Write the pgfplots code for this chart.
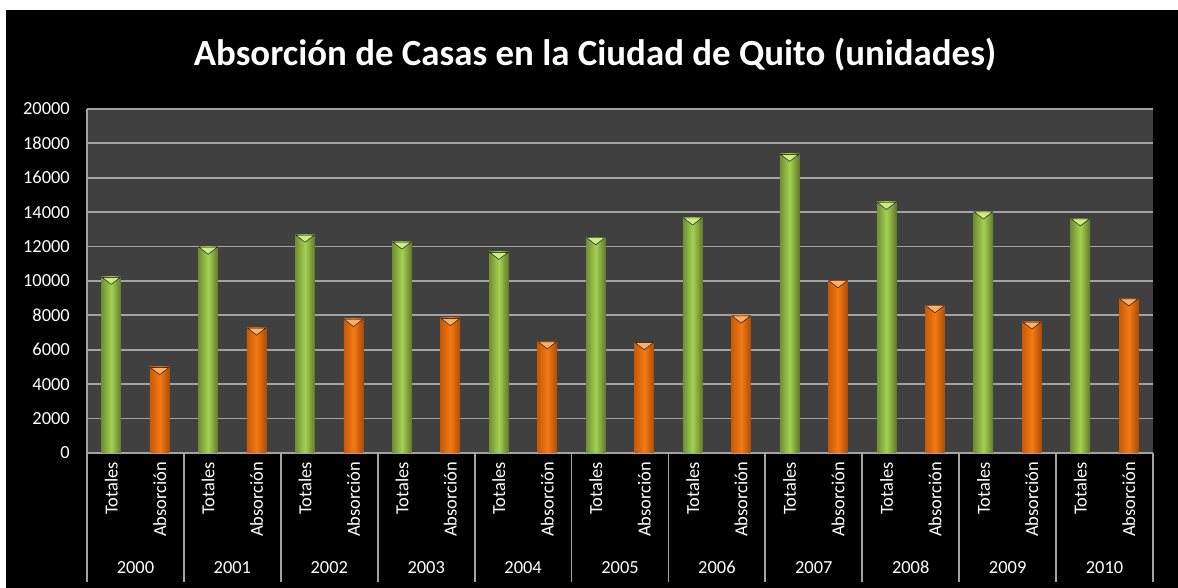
\documentclass[border=0pt]{standalone}
\usepackage{pgfplots}
\pgfplotsset{compat=1.18}
\usepackage{fontspec}
\setmainfont{Carlito}
\definecolor{plotbg}{HTML}{404040}
\definecolor{gridc}{HTML}{A3A3A3}
\definecolor{gL}{HTML}{A6D152}
\definecolor{gD}{HTML}{718F32}
\definecolor{gT}{HTML}{CDEB86}
\definecolor{oL}{HTML}{F47A14}
\definecolor{oD}{HTML}{C85A08}
\definecolor{oT}{HTML}{FDB066}
\pgfplotsset{
  tot/.style={ybar, bar width=19.5bp, bar shift=0pt, draw=none, left color=gD, right color=gD!85!black, middle color=gL},
  abso/.style={ybar, bar width=19.5bp, bar shift=0pt, draw=none, left color=oD, right color=oD!85!black, middle color=oL},
  bevel/.style={only marks, mark=triangle*, mark size=10.5pt, mark options={yshift=-3bp, rotate=180, yscale=0.45, draw=none, fill=#1}},
}
\begin{document}
\begin{tikzpicture}[x=1bp,y=1bp]
\fill[white] (0,0) rectangle (1178,588);
\fill[black] (6,0) rectangle (1178,578);
\node[text=white,font=\fontsize{37}{40}\selectfont\bfseries] at (595,533) {Absorción de Casas en la Ciudad de Quito (unidades)};
\begin{axis}[
  at={(87bp,135bp)}, anchor=south west,
  scale only axis, width=1066bp, height=344bp,
  xmin=-0.5, xmax=21.5, ymin=0, ymax=20000,
  ytick={0,2000,...,20000},
  xtick={0,...,21},
  xticklabels={Totales,Absorción,Totales,Absorción,Totales,Absorción,Totales,Absorción,Totales,Absorción,Totales,Absorción,Totales,Absorción,Totales,Absorción,Totales,Absorción,Totales,Absorción,Totales,Absorción},
  major tick length=0pt,
  axis x line*=bottom, axis y line*=left,
  axis line style={-, draw=gridc, line width=1.8bp},
  axis background/.style={fill=plotbg},
  ymajorgrids, major grid style={draw=gridc, line width=1.8bp},
  scaled y ticks=false,
  /pgf/number format/1000 sep={},
  /pgf/number format/assume math mode=true,
  yticklabel style={text=white, font=\fontsize{18.5}{20}\selectfont, inner sep=0pt, xshift=-17bp},
  xticklabel style={text=white, font=\fontsize{18.5}{20}\selectfont, rotate=90, anchor=east, inner sep=0pt, inner xsep=9bp},
  clip=false,
]
% Totales
\addplot[tot] coordinates {(0,10250)};
\addplot[tot] coordinates {(2,12000)};
\addplot[tot] coordinates {(4,12700)};
\addplot[tot] coordinates {(6,12300)};
\addplot[tot] coordinates {(8,11700)};
\addplot[tot] coordinates {(10,12550)};
\addplot[tot] coordinates {(12,13700)};
\addplot[tot] coordinates {(14,17400)};
\addplot[tot] coordinates {(16,14600)};
\addplot[tot] coordinates {(18,14050)};
\addplot[tot] coordinates {(20,13650)};
% Absorción
\addplot[abso] coordinates {(1,5000)};
\addplot[abso] coordinates {(3,7300)};
\addplot[abso] coordinates {(5,7800)};
\addplot[abso] coordinates {(7,7850)};
\addplot[abso] coordinates {(9,6500)};
\addplot[abso] coordinates {(11,6450)};
\addplot[abso] coordinates {(13,8000)};
\addplot[abso] coordinates {(15,10050)};
\addplot[abso] coordinates {(17,8600)};
\addplot[abso] coordinates {(19,7650)};
\addplot[abso] coordinates {(21,9000)};
% bevel highlights at bar tops
\addplot[bevel=gT] coordinates {(0,10250) (2,12000) (4,12700) (6,12300) (8,11700) (10,12550) (12,13700) (14,17400) (16,14600) (18,14050) (20,13650)};
\addplot[bevel=oT] coordinates {(1,5000) (3,7300) (5,7800) (7,7850) (9,6500) (11,6450) (13,8000) (15,10050) (17,8600) (19,7650) (21,9000)};
\pgfplotsinvokeforeach{-0.5,1.5,3.5,5.5,7.5,9.5,11.5,13.5,15.5,17.5,19.5,21.5}{
  \draw[gridc, line width=1.8bp] (axis cs:#1,0) -- ++(0bp,-129bp);
}
\pgfplotsinvokeforeach{0,1,2,3,4,5,6,7,8,9,10}{
  \node[text=white, font=\fontsize{18.5}{20}\selectfont, anchor=base, inner sep=0pt] at (axis cs:{2*#1+0.5},0) [yshift=-121bp] {\the\numexpr 2000+#1\relax};
}
\end{axis}
\end{tikzpicture}
\end{document}
